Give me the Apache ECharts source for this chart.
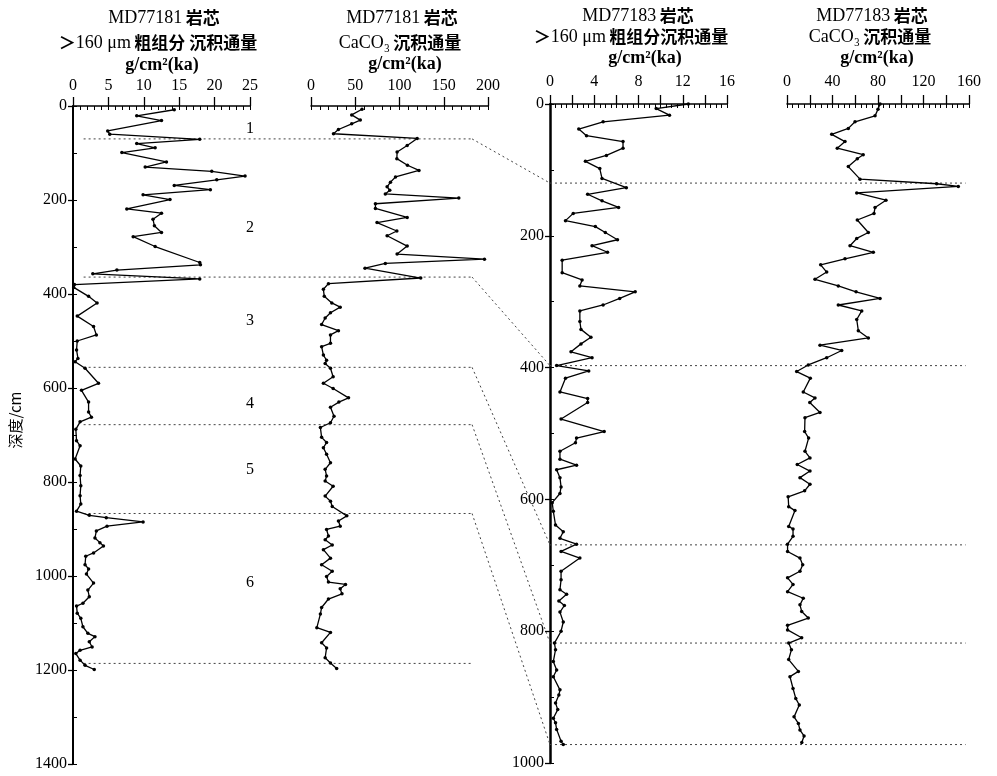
<!DOCTYPE html>
<html>
<head>
<meta charset="utf-8">
<script src="https://cdn.jsdelivr.net/npm/echarts/dist/echarts.min.js"></script>
<style>
html, body { margin: 0; padding: 0; background: #fff; }
#main { width: 997px; height: 776px; }
</style>
</head>
<body>
<div id="main"></div>
<script>
// MD77181 >160um 粗组分沉积通量
var depth181Coarse = [8, 21, 31, 53, 60, 71, 80, 89, 99, 119,
	130, 139, 149, 157, 169, 178, 189, 199, 219, 228,
	241, 255, 269, 278, 299, 333, 338, 349, 357, 368,
	380, 386, 405, 419, 447, 469, 487, 500, 519, 537,
	544, 558, 590, 605, 630, 651, 662, 672, 688, 712,
	723, 751, 766, 786, 808, 829, 847, 862, 871, 876,
	885, 894, 904, 919, 929, 936, 951, 958, 976, 985,
	996, 1015, 1030, 1044, 1058, 1064, 1079, 1090, 1108, 1122,
	1129, 1140, 1151, 1158, 1165, 1179, 1190, 1199];
var flux181Coarse = [14.3, 9.0, 12.5, 4.9, 5.2, 17.9, 9.0, 11.6, 6.9, 13.2,
	10.2, 19.6, 24.3, 20.3, 14.3, 19.4, 9.9, 13.7, 7.6, 12.5,
	11.3, 11.5, 12.5, 8.5, 11.6, 17.9, 18.0, 6.2, 2.8, 17.9,
	0.2, 0.1, 2.2, 3.4, 0.6, 2.9, 3.3, 0.6, 0.5, 0.7,
	0.3, 1.7, 3.6, 1.2, 2.2, 2.2, 2.6, 1.0, 0.4, 0.5,
	1.0, 0.3, 1.1, 1.0, 1.1, 1.0, 1.1, 0.5, 2.3, 4.7,
	9.9, 4.8, 3.3, 3.1, 3.8, 4.3, 2.9, 1.8, 1.7, 2.2,
	1.9, 2.9, 2.1, 2.3, 1.4, 0.5, 0.6, 1.1, 1.4, 2.1,
	3.1, 2.3, 2.7, 1.0, 0.4, 1.0, 1.7, 3.0];

// MD77181 CaCO3 沉积通量
var depth181Carb = [7, 19, 30, 38, 50, 59, 69, 84, 98, 112,
	126, 137, 151, 162, 172, 179, 187, 196, 208, 218,
	237, 248, 266, 276, 298, 315, 326, 335, 345, 366,
	378, 390, 405, 419, 428, 440, 451, 465, 478, 487,
	505, 512, 530, 541, 548, 558, 576, 590, 601, 621,
	630, 641, 660, 674, 684, 705, 716, 727, 741, 759,
	773, 787, 798, 809, 830, 841, 852, 872, 883, 894,
	901, 915, 923, 934, 944, 962, 976, 990, 1001, 1013,
	1018, 1027, 1038, 1049, 1067, 1081, 1110, 1120, 1142, 1153,
	1174, 1185, 1197];
var flux181Carb = [57.6, 46, 55.7, 46, 31, 25.4, 120, 108.7, 97.3, 97,
	109, 122, 95.5, 89.8, 86, 89, 84, 167, 72.8, 72.8,
	108.7, 74.6, 97, 86, 108.7, 97.3, 196, 84, 61, 124,
	19.7, 14, 15, 23.5, 33, 22, 16, 12, 31, 22,
	22, 12, 14, 17.6, 16, 22, 25, 14, 25, 42.4,
	31.5, 22, 26, 22, 10.6, 12, 17.6, 14, 17.6, 22,
	16, 17.6, 16, 25, 16, 22, 24, 40.5, 31, 33,
	17.6, 19.7, 16, 24, 14, 22, 12, 24, 17.6, 19.7,
	39, 33, 35, 19.7, 12, 10.6, 6.6, 22, 12, 17.6,
	16, 22, 29];

// MD77183 >160um 粗组分沉积通量
var depth183Coarse = [0, 7, 17, 27, 38, 48, 57, 67, 78, 87,
	98, 113, 127, 137, 147, 157, 166, 177, 186, 195,
	206, 215, 225, 237, 256, 267, 276, 285, 295, 305,
	314, 330, 342, 354, 364, 376, 385, 397, 405, 416,
	437, 447, 453, 478, 497, 507, 514, 527, 539, 548,
	555, 567, 581, 591, 605, 618, 639, 649, 659, 668,
	679, 689, 709, 722, 737, 744, 754, 761, 771, 786,
	800, 818, 828, 846, 859, 869, 889, 897, 909, 919,
	932, 939, 949, 967, 972];
var flux183Coarse = [12.5, 9.6, 10.8, 4.8, 2.6, 3.3, 6.6, 6.6, 5.1, 3.2,
	4.5, 4.7, 6.9, 3.4, 4.7, 6.2, 2.1, 1.4, 4.1, 5.0,
	6.1, 3.8, 5.2, 1.1, 1.1, 2.9, 2.7, 7.7, 6.3, 4.8,
	2.7, 2.7, 2.8, 3.7, 2.8, 1.9, 3.8, 0.6, 3.5, 1.4,
	0.9, 3.4, 3.4, 1.0, 4.9, 2.4, 2.3, 0.9, 0.9, 2.4,
	0.6, 0.9, 1.0, 0.9, 0.2, 0.3, 0.5, 1.2, 0.9, 2.4,
	1.0, 2.7, 1.0, 1.0, 0.9, 1.5, 0.8, 1.3, 0.9, 1.2,
	1.0, 0.4, 0.5, 0.3, 0.6, 0.3, 0.9, 0.8, 0.5, 0.7,
	0.3, 0.5, 0.6, 1.0, 1.2];

// MD77183 CaCO3 沉积通量
var depth183Carb = [0, 8, 18, 27, 37, 46, 57, 67, 77, 83,
	95, 114, 121, 125, 135, 146, 157, 166, 176, 195,
	204, 215, 225, 235, 244, 255, 266, 276, 285, 295,
	305, 314, 327, 344, 355, 366, 374, 385, 396, 406,
	416, 437, 446, 453, 468, 476, 497, 507, 527, 537,
	547, 557, 567, 577, 587, 596, 611, 617, 641, 645,
	656, 668, 679, 689, 699, 709, 719, 729, 740, 750,
	760, 770, 780, 791, 798, 810, 818, 828, 843, 861,
	869, 887, 902, 912, 930, 940, 950, 959, 969];
var flux183Carb = [81.8, 80, 77.4, 59.8, 53.9, 39.3, 51, 44.2, 67, 61.8,
	53.9, 64.2, 131.6, 150.6, 61.3, 87, 77.4, 76.5, 61.8, 71.5,
	61.3, 55.4, 75.9, 51, 29.6, 34.9, 24.6, 45.1, 60.7, 81.8,
	45.1, 65.7, 61.3, 62.7, 71.5, 29, 48.1, 34.9, 18.7, 8.5,
	20.5, 14.3, 24.6, 20, 29, 15.8, 15.5, 19, 15.8, 20.2,
	9, 20.2, 11.4, 20.2, 15.5, 1, 1.5, 7, 1.5, 5.3,
	5.3, 0.5, 0.5, 11.4, 13.8, 11.4, 0.5, 5.3, 0.5, 14.3,
	11.4, 12.9, 18.7, 0.5, 0.5, 12.9, 1.5, 3.9, 1.5, 10,
	2.6, 5.3, 7.7, 10.8, 6.2, 10, 11.4, 15, 13];

// 分段界线深度 (cm)
var zoneDepth181 = [70, 364, 556, 678, 867, 1186];
var zoneDepth183 = [120, 397, 669, 818, 972];
var zoneNames = ['1', '2', '3', '4', '5', '6'];
var zoneNameDepth = [49, 259, 458, 634, 775, 1015];

var SERIF = '"Liberation Serif", "DejaVu Serif", serif';
var CJK = '"Noto Sans CJK SC", sans-serif';

// 主刻度轴（向上刻度 + 标签）
function xMain(grid, max, step, labelStep, margin) {
	return {
		type: 'value', gridIndex: grid, position: 'top', min: 0, max: max, interval: step,
		axisLine: { show: true, lineStyle: { color: '#000', width: 1.5 } },
		axisTick: { show: true, length: 9, lineStyle: { color: '#000', width: 1.3 } },
		axisLabel: {
			show: true, margin: margin, color: '#000', fontSize: 16, fontFamily: SERIF,
			showMinLabel: true, showMaxLabel: true,
			formatter: function (v) { return (v % labelStep === 0) ? String(v) : ''; }
		},
		splitLine: { show: false }
	};
}
// 次刻度轴（向下小刻度）
function xMinor(grid, max, step) {
	return {
		type: 'value', gridIndex: grid, position: 'top', min: 0, max: max, interval: step,
		axisLine: { show: false },
		axisTick: { show: true, inside: true, length: 4, lineStyle: { color: '#000', width: 1 } },
		axisLabel: { show: false },
		splitLine: { show: false }
	};
}
function yMain(grid, max, lineWidth) {
	return {
		type: 'value', gridIndex: grid, position: 'left', inverse: true, min: 0, max: max, interval: 200,
		axisLine: { show: true, lineStyle: { color: '#000', width: lineWidth } },
		axisTick: { show: true, length: 5, lineStyle: { color: '#000', width: 1.3 } },
		axisLabel: {
			show: true, margin: 6, color: '#000', fontSize: 16, fontFamily: SERIF,
			showMinLabel: true, showMaxLabel: true,
			formatter: function (v) { return String(v); }
		},
		splitLine: { show: false }
	};
}
function yMinor(grid, max) {
	return {
		type: 'value', gridIndex: grid, position: 'left', inverse: true, min: 0, max: max, interval: 100,
		axisLine: { show: false },
		axisTick: { show: true, inside: true, length: 4, lineStyle: { color: '#000', width: 1 } },
		axisLabel: { show: false },
		splitLine: { show: false }
	};
}
function yHidden(grid, max) {
	return { type: 'value', gridIndex: grid, inverse: true, min: 0, max: max, show: false, splitLine: { show: false } };
}
function curve(depths, values, xi, yi) {
	var data = [];
	for (var i = 0; i < depths.length; i++) {
		data.push([values[i], depths[i]]);
	}
	return {
		type: 'line', xAxisIndex: xi, yAxisIndex: yi, data: data,
		symbol: 'circle', symbolSize: 3.5, showSymbol: true,
		lineStyle: { color: '#000', width: 1.3 },
		itemStyle: { color: '#000' },
		clip: false, silent: true, z: 3
	};
}

var chart = echarts.init(document.getElementById('main'));
var option = {
	animation: false,
	backgroundColor: '#fff',
	grid: [
		{ left: 73, top: 106, width: 177, height: 658, outerBoundsMode: 'none' },
		{ left: 311, top: 106, width: 177, height: 658, outerBoundsMode: 'none' },
		{ left: 550, top: 104, width: 177, height: 659, outerBoundsMode: 'none' },
		{ left: 787, top: 104, width: 182, height: 659, outerBoundsMode: 'none' }
	],
	xAxis: [
		xMain(0, 25, 5, 5, 12), xMinor(0, 25, 1),
		xMain(1, 200, 50, 50, 12), xMinor(1, 200, 10),
		xMain(2, 16, 2, 4, 14), xMinor(2, 16, 0.5),
		xMain(3, 160, 20, 40, 14), xMinor(3, 160, 5)
	],
	yAxis: [
		yMain(0, 1400, 2), yMinor(0, 1400),
		yHidden(1, 1400),
		yMain(2, 1000, 2.5), yMinor(2, 1000),
		yHidden(3, 1000)
	],
	series: [
		curve(depth181Coarse, flux181Coarse, 0, 0),
		curve(depth181Carb, flux181Carb, 2, 2),
		curve(depth183Coarse, flux183Coarse, 4, 3),
		curve(depth183Carb, flux183Carb, 6, 5)
	]
};
chart.setOption(option);

// 标题、分段界线及连线
function pt(xi, yi, x, y) {
	return chart.convertToPixel({ xAxisIndex: xi, yAxisIndex: yi }, [x, y]);
}
function richTitle(text, x, y) {
	return {
		type: 'text', x: x, y: y, silent: true,
		style: {
			text: text, align: 'center', verticalAlign: 'middle', fill: '#000',
			rich: {
				a: { fontFamily: SERIF, fontSize: 18, fill: '#000' },
				b: { fontFamily: SERIF, fontSize: 18, fontWeight: 'bold', fill: '#000' },
				c: { fontFamily: CJK, fontSize: 17, fontWeight: 'bold', fill: '#000' }
			}
		}
	};
}
function dotted(a, b) {
	return {
		type: 'line', silent: true, z: 1,
		shape: { x1: a[0], y1: a[1], x2: b[0], y2: b[1] },
		style: { stroke: '#444', lineWidth: 1, lineDash: [2, 3] }
	};
}

var graphics = [
	richTitle('{a|MD77181} {c|岩芯}', 164, 18),
	richTitle('{c|＞}{a|160 μm} {c|粗组分 沉积通量}', 158, 43),
	richTitle('{b|g/cm²(ka)}', 162, 65),
	richTitle('{a|MD77181} {c|岩芯}', 402, 18),
	richTitle('{a|CaCO₃} {c|沉积通量}', 400, 43),
	richTitle('{b|g/cm²(ka)}', 405, 64),
	richTitle('{a|MD77183} {c|岩芯}', 638, 16),
	richTitle('{c|＞}{a|160 μm} {c|粗组分沉积通量}', 631, 37),
	richTitle('{b|g/cm²(ka)}', 645, 58),
	richTitle('{a|MD77183} {c|岩芯}', 872, 16),
	richTitle('{a|CaCO₃} {c|沉积通量}', 870, 37),
	richTitle('{b|g/cm²(ka)}', 877, 58),
	{
		type: 'text', x: 15, y: 420, rotation: Math.PI / 2, silent: true,
		style: { text: '深度/cm', align: 'center', verticalAlign: 'middle', fill: '#000', font: '15px ' + CJK }
	}
];

for (var i = 0; i < zoneDepth181.length; i++) {
	var a = pt(0, 0, 1.5, zoneDepth181[i]);
	var b = pt(2, 2, 182, zoneDepth181[i]);
	graphics.push(dotted(a, b));
	if (i < zoneDepth183.length) {
		var c = pt(4, 3, 0, zoneDepth183[i]);
		graphics.push(dotted(b, c));
	}
}
for (var j = 0; j < zoneDepth183.length; j++) {
	graphics.push(dotted(pt(4, 3, 0, zoneDepth183[j]), pt(6, 5, 157, zoneDepth183[j])));
}
for (var k = 0; k < zoneNames.length; k++) {
	var p = pt(0, 0, 25, zoneNameDepth[k]);
	graphics.push({
		type: 'text', x: p[0], y: p[1], silent: true,
		style: { text: zoneNames[k], align: 'center', verticalAlign: 'middle', fill: '#000', font: '16px ' + SERIF }
	});
}
chart.setOption({ graphic: graphics });
</script>
</body>
</html>
